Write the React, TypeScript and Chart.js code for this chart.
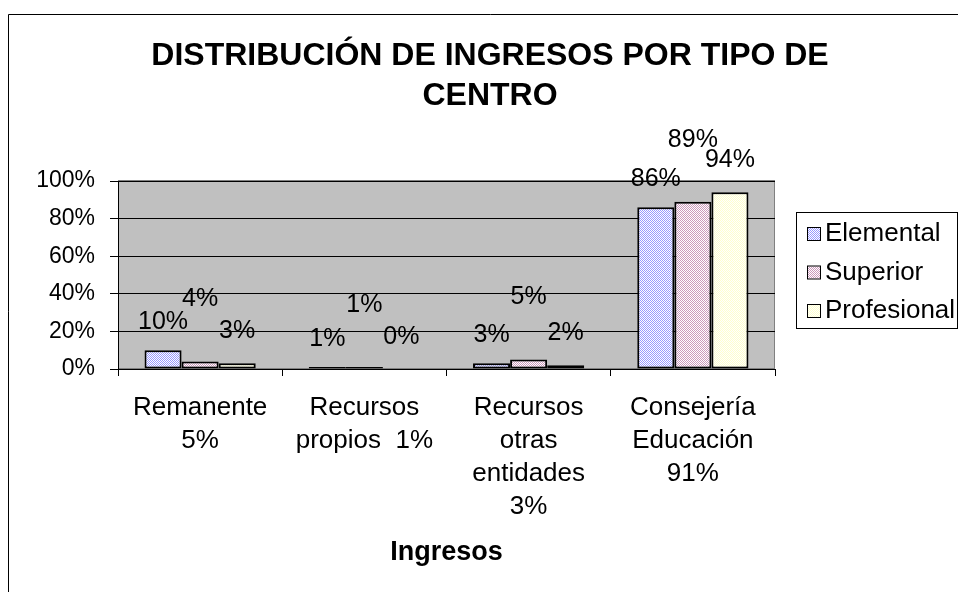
import React, { useEffect, useRef } from 'react';
import { Chart, registerables } from 'chart.js';

Chart.register(...registerables);

const titleLines = ['DISTRIBUCIÓN DE INGRESOS POR TIPO DE', 'CENTRO'];
const categories = [
  ['Remanente', '5%'],
  ['Recursos', 'propios  1%'],
  ['Recursos', 'otras', 'entidades', '3%'],
  ['Consejería', 'Educación', '91%'],
];
const seriesNames = ['Elemental', 'Superior', 'Profesional'];
const elemental = [10, 1, 3, 86];
const superior = [4, 1, 5, 89];
const profesional = [3, 0, 2, 94];
const yTickStep = 20;
const yMax = 100;
const xAxisTitle = 'Ingresos';

const FONT = '"Liberation Sans", Arial, Helvetica, sans-serif';

function makePattern(fg: string, bg: string): CanvasPattern | string {
  const c = document.createElement('canvas');
  c.width = 2;
  c.height = 2;
  const g = c.getContext('2d');
  if (!g) return fg;
  g.fillStyle = bg;
  g.fillRect(0, 0, 2, 2);
  g.fillStyle = fg;
  g.fillRect(0, 0, 1, 1);
  g.fillRect(1, 1, 1, 1);
  const p = g.createPattern(c, 'repeat');
  return p || fg;
}

const framePlugin = {
  id: 'frame',
  beforeDraw(chart: any) {
    const { ctx, chartArea } = chart;
    ctx.save();
    ctx.strokeStyle = '#000';
    ctx.lineWidth = 1;
    ctx.beginPath();
    ctx.moveTo(0.5, chart.height);
    ctx.lineTo(0.5, 6.5);
    ctx.lineTo(chart.width, 6.5);
    ctx.stroke();
    ctx.fillStyle = '#C0C0C0';
    ctx.fillRect(chartArea.left, chartArea.top, chartArea.right - chartArea.left, chartArea.bottom - chartArea.top);
    ctx.strokeStyle = '#808080';
    ctx.strokeRect(chartArea.left + 0.5, chartArea.top - 0.5, chartArea.right - chartArea.left - 1, chartArea.bottom - chartArea.top);
    ctx.restore();
  },
  afterDraw(chart: any) {
    const { ctx } = chart;
    ctx.save();
    ctx.fillStyle = '#000';
    ctx.textAlign = 'center';
    ctx.textBaseline = 'middle';
    ctx.font = `bold 32px ${FONT}`;
    titleLines.forEach((t, i) => {
      ctx.fillText(t, chart.width / 2, 48 + i * 40);
    });
    const lx = 788, ly = 204, lw = 161, lh = 116;
    ctx.fillStyle = '#fff';
    ctx.fillRect(lx, ly, lw, lh);
    ctx.strokeStyle = '#000';
    ctx.lineWidth = 1;
    ctx.strokeRect(lx + 0.5, ly + 0.5, lw, lh);
    ctx.textAlign = 'left';
    ctx.font = `26px ${FONT}`;
    chart.data.datasets.forEach((ds: any, i: number) => {
      const cy = 225 + i * 38.5;
      ctx.fillStyle = ds.backgroundColor;
      ctx.fillRect(800, cy - 5, 12, 12);
      ctx.strokeStyle = '#000';
      ctx.strokeRect(799.5, cy - 5.5, 13, 13);
      ctx.fillStyle = '#000';
      ctx.fillText(ds.label, 817, cy + 1);
    });
    ctx.restore();
  },
  afterDatasetsDraw(chart: any) {
    const { ctx } = chart;
    ctx.save();
    ctx.fillStyle = '#000';
    ctx.textAlign = 'center';
    ctx.textBaseline = 'middle';
    ctx.font = `25px ${FONT}`;
    chart.data.datasets.forEach((ds: any, i: number) => {
      const meta = chart.getDatasetMeta(i);
      meta.data.forEach((bar: any, j: number) => {
        ctx.fillText(`${ds.data[j]}%`, bar.x, bar.y - ds.labelOffset);
      });
    });
    ctx.restore();
  },
};

export default function App() {
  const ref = useRef<HTMLCanvasElement | null>(null);

  useEffect(() => {
    const canvas = ref.current;
    if (!canvas) return;
    const fills = [
      makePattern('#9999FF', '#FFFFFF'),
      makePattern('#CC99BB', '#FFFFFF'),
      makePattern('#FFFFCC', '#FFFFFF'),
    ];
    const series = [elemental, superior, profesional];
    const offsets = [28, 62, 32];
    const chart = new Chart(canvas, {
      type: 'bar',
      data: {
        labels: categories,
        datasets: series.map((d, i) => ({
          label: seriesNames[i],
          data: d,
          backgroundColor: fills[i] as any,
          borderColor: '#000',
          borderWidth: 2,
          borderSkipped: false,
          categoryPercentage: 0.677,
          barPercentage: 1,
          labelOffset: offsets[i],
        })) as any,
      },
      options: {
        responsive: false,
        animation: false,
        devicePixelRatio: 1,
        layout: { padding: { top: 173, left: 10, right: 197, bottom: 0 } },
        plugins: {
          legend: { display: false },
          title: { display: false },
          tooltip: { enabled: false },
        },
        scales: {
          x: {
            afterFit: (s: any) => { s.height = 239; },
            grid: {
              display: true,
              drawOnChartArea: false,
              drawTicks: true,
              tickLength: 7,
              color: '#000',
              offset: true,
            },
            border: { display: true, color: '#000', width: 1 },
            ticks: {
              color: '#000',
              maxRotation: 0,
              autoSkip: false,
              padding: 15,
              font: { family: FONT, size: 26, lineHeight: 1.27 },
            },
            title: {
              display: true,
              text: xAxisTitle,
              color: '#000',
              font: { family: FONT, size: 27, weight: 'bold' },
              padding: { top: 0, bottom: 39 },
            },
          },
          y: {
            min: 0,
            max: yMax,
            afterFit: (s: any) => { s.width = 100; },
            grid: {
              display: true,
              drawTicks: true,
              tickLength: 8,
              color: '#000',
            },
            border: { display: true, color: '#000', width: 1 },
            ticks: {
              stepSize: yTickStep,
              color: '#000',
              padding: 15,
              font: { family: FONT, size: 23 },
              callback: (v: any) => `${v}%`,
            },
          },
        },
      },
      plugins: [framePlugin],
    });
    return () => chart.destroy();
  }, []);

  return (
    <div style={{ position: 'fixed', left: 0, top: 0, width: 958, height: 592, overflow: 'hidden', background: '#fff' }}>
      <canvas ref={ref} width={964} height={600} style={{ position: 'absolute', left: 8, top: 8, display: 'block' }} />
    </div>
  );
}
